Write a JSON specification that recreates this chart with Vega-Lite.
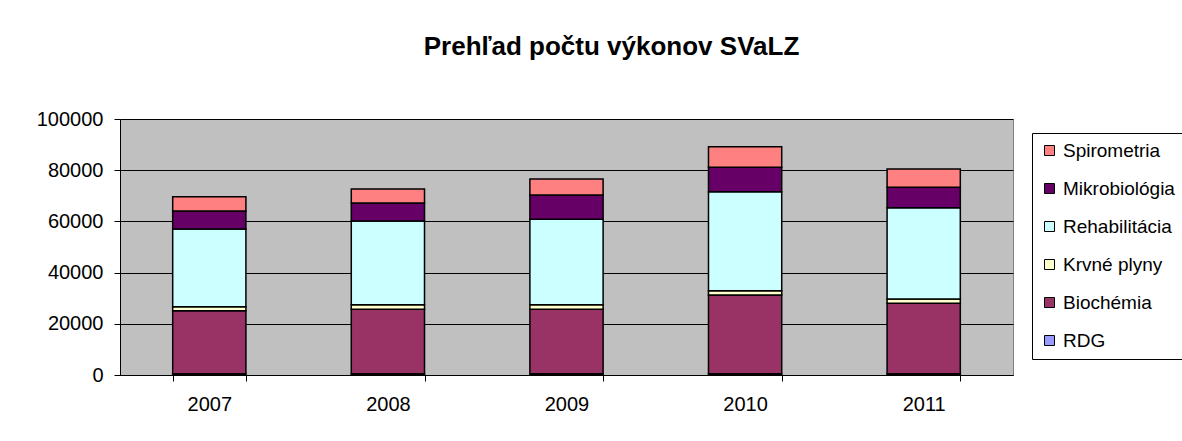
{
  "$schema": "https://vega.github.io/schema/vega-lite/v6.json",
  "width": 893,
  "height": 256,
  "autosize": "none",
  "padding": {"left": 120, "top": 119, "right": 169, "bottom": 66},
  "background": "white",
  "title": {
    "text": "Prehľad počtu výkonov SVaLZ",
    "font": "Liberation Sans",
    "fontSize": 26,
    "fontWeight": "bold",
    "color": "black",
    "anchor": "middle",
    "dx": 45,
    "offset": 28,
    "baseline": "alphabetic"
  },
  "config": {
    "view": {"fill": "#C0C0C0", "stroke": "#808080", "strokeWidth": 1},
    "axis": {
      "labelFont": "Liberation Sans",
      "labelFontSize": 20,
      "labelColor": "black",
      "domainColor": "black",
      "tickColor": "black",
      "tickSize": 6,
      "domainWidth": 1,
      "tickWidth": 1
    }
  },
  "data": {
    "values": [
      {"year": "2007", "series": "RDG", "value": 500},
      {"year": "2007", "series": "Biochémia", "value": 24600},
      {"year": "2007", "series": "Krvné plyny", "value": 1600},
      {"year": "2007", "series": "Rehabilitácia", "value": 30350},
      {"year": "2007", "series": "Mikrobiológia", "value": 7000},
      {"year": "2007", "series": "Spirometria", "value": 5600},
      {"year": "2008", "series": "RDG", "value": 500},
      {"year": "2008", "series": "Biochémia", "value": 25150},
      {"year": "2008", "series": "Krvné plyny", "value": 1800},
      {"year": "2008", "series": "Rehabilitácia", "value": 32700},
      {"year": "2008", "series": "Mikrobiológia", "value": 7050},
      {"year": "2008", "series": "Spirometria", "value": 5450},
      {"year": "2009", "series": "RDG", "value": 500},
      {"year": "2009", "series": "Biochémia", "value": 25150},
      {"year": "2009", "series": "Krvné plyny", "value": 1800},
      {"year": "2009", "series": "Rehabilitácia", "value": 33350},
      {"year": "2009", "series": "Mikrobiológia", "value": 9500},
      {"year": "2009", "series": "Spirometria", "value": 6250},
      {"year": "2010", "series": "RDG", "value": 500},
      {"year": "2010", "series": "Biochémia", "value": 30750},
      {"year": "2010", "series": "Krvné plyny", "value": 1700},
      {"year": "2010", "series": "Rehabilitácia", "value": 38650},
      {"year": "2010", "series": "Mikrobiológia", "value": 9550},
      {"year": "2010", "series": "Spirometria", "value": 8050},
      {"year": "2011", "series": "RDG", "value": 500},
      {"year": "2011", "series": "Biochémia", "value": 27500},
      {"year": "2011", "series": "Krvné plyny", "value": 1700},
      {"year": "2011", "series": "Rehabilitácia", "value": 35650},
      {"year": "2011", "series": "Mikrobiológia", "value": 7950},
      {"year": "2011", "series": "Spirometria", "value": 7150}
    ]
  },
  "transform": [
    {"calculate": "indexof(['RDG','Biochémia','Krvné plyny','Rehabilitácia','Mikrobiológia','Spirometria'], datum.series)", "as": "stackOrder"}
  ],
  "mark": {"type": "bar", "stroke": "black", "strokeWidth": 1.5},
  "encoding": {
    "x": {
      "field": "year",
      "type": "ordinal",
      "scale": {"paddingInner": 0.59, "paddingOuter": 0.295},
      "axis": {"title": null, "labelAngle": 0, "tickBand": "extent", "grid": false, "labelPadding": 13}
    },
    "y": {
      "field": "value",
      "type": "quantitative",
      "stack": "zero",
      "scale": {"domain": [0, 100000], "nice": false},
      "axis": {
        "title": null,
        "values": [0, 20000, 40000, 60000, 80000, 100000],
        "format": "d",
        "grid": true,
        "gridColor": "black",
        "gridWidth": 1,
        "gridOpacity": 1,
        "labelPadding": 11
      }
    },
    "color": {
      "field": "series",
      "type": "nominal",
      "scale": {
        "domain": ["Spirometria", "Mikrobiológia", "Rehabilitácia", "Krvné plyny", "Biochémia", "RDG"],
        "range": ["#FF8080", "#660066", "#CCFFFF", "#FFFFCC", "#993366", "#9999FF"]
      },
      "legend": {
        "title": null,
        "orient": "none",
        "legendX": 912,
        "legendY": 14,
        "strokeColor": "black",
        "fillColor": "white",
        "padding": 8,
        "symbolType": "square",
        "symbolSize": 100,
        "symbolStrokeColor": "black",
        "symbolStrokeWidth": 1,
        "symbolOpacity": 1,
        "labelFont": "Liberation Sans",
        "labelFontSize": 19,
        "labelColor": "black",
        "labelOffset": 4,
        "labelLimit": 0,
        "rowPadding": 18
      }
    },
    "order": {"field": "stackOrder", "type": "quantitative"}
  }
}
